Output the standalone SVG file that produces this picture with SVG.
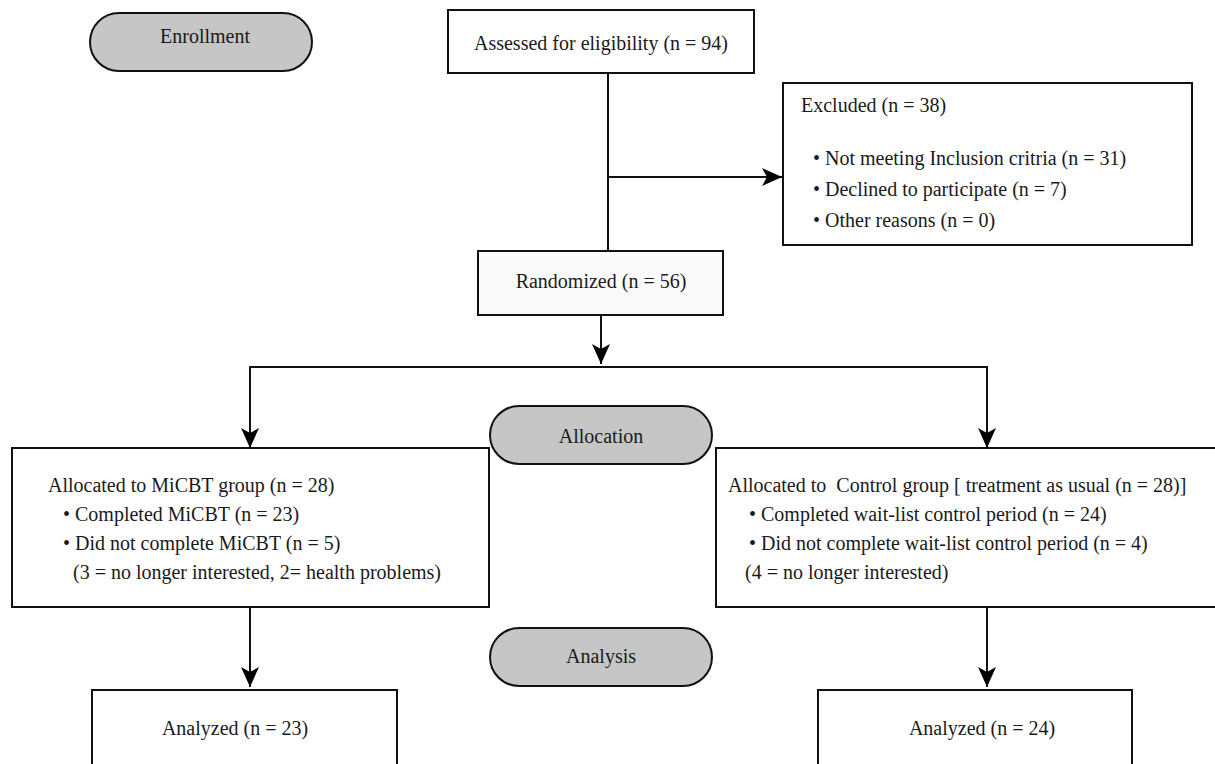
<svg xmlns="http://www.w3.org/2000/svg" width="1215" height="764" viewBox="0 0 1215 764">
<style>
text{font-family:"Liberation Serif","Times New Roman",serif;font-size:20px;fill:#1a1a1a}
.c{text-anchor:middle}
.box{fill:#fff;stroke:#111;stroke-width:2}
.pill{fill:#c6c6c6;stroke:#111;stroke-width:2}
.ln{fill:none;stroke:#111;stroke-width:2}
</style>
<defs>
<marker id="ah" markerUnits="userSpaceOnUse" markerWidth="22" markerHeight="20" refX="20" refY="9" orient="auto">
<path d="M0,0 L20,9 L0,18 L5,9 Z" fill="#000"/>
</marker>
</defs>
<g id="connectors">
<line class="ln" x1="608" y1="73" x2="608" y2="251"/>
<line class="ln" x1="608" y1="177" x2="782" y2="177" marker-end="url(#ah)"/>
<line class="ln" x1="601" y1="315" x2="601" y2="364" marker-end="url(#ah)"/>
<polyline class="ln" points="250,448 250,367 987,367 987,448"/>
<line class="ln" x1="250" y1="400" x2="250" y2="448" marker-end="url(#ah)"/>
<line class="ln" x1="987" y1="400" x2="987" y2="448" marker-end="url(#ah)"/>
<line class="ln" x1="250" y1="607" x2="250" y2="687" marker-end="url(#ah)"/>
<line class="ln" x1="987" y1="607" x2="987" y2="687" marker-end="url(#ah)"/>
</g>
<g id="enrollment">
<rect class="pill" x="90" y="13" width="222" height="58" rx="29"/>
<text class="c" x="205" y="43">Enrollment</text>
</g>
<g id="assessed">
<rect class="box" x="448" y="10" width="306" height="63"/>
<text class="c" x="601" y="50">Assessed for eligibility (n = 94)</text>
</g>
<g id="excluded">
<rect class="box" x="783" y="83" width="409" height="162"/>
<text x="801" y="112">Excluded (n = 38)</text>
<text x="813" y="165">• Not meeting Inclusion critria (n = 31)</text>
<text x="813" y="196">• Declined to participate (n = 7)</text>
<text x="813" y="227">• Other reasons (n = 0)</text>
</g>
<g id="randomized">
<rect class="box" style="fill:#fafafa" x="478" y="251" width="245" height="64"/>
<text class="c" x="601" y="288">Randomized (n = 56)</text>
</g>
<g id="allocation">
<rect class="pill" x="490" y="406" width="222" height="58" rx="29"/>
<text class="c" x="601" y="443">Allocation</text>
</g>
<g id="micbt">
<rect class="box" x="12" y="448" width="477" height="159"/>
<text x="48" y="492">Allocated to MiCBT group (n = 28)</text>
<text x="63" y="521">• Completed MiCBT (n = 23)</text>
<text x="63" y="550">• Did not complete MiCBT (n = 5)</text>
<text x="73" y="579">(3 = no longer interested, 2= health problems)</text>
</g>
<g id="control">
<rect class="box" x="716" y="448" width="510" height="159"/>
<text x="728" y="492">Allocated to &#160;Control group [ treatment as usual (n = 28)]</text>
<text x="749" y="521">• Completed wait-list control period (n = 24)</text>
<text x="749" y="550">• Did not complete wait-list control period (n = 4)</text>
<text x="745" y="579">(4 = no longer interested)</text>
</g>
<g id="analysis">
<rect class="pill" x="490" y="628" width="222" height="58" rx="29"/>
<text class="c" x="601" y="663">Analysis</text>
</g>
<g id="analyzed-micbt">
<rect class="box" x="92" y="690" width="305" height="90"/>
<text class="c" x="235" y="735">Analyzed (n = 23)</text>
</g>
<g id="analyzed-control">
<rect class="box" x="818" y="690" width="314" height="90"/>
<text class="c" x="982" y="735">Analyzed (n = 24)</text>
</g>
</svg>
